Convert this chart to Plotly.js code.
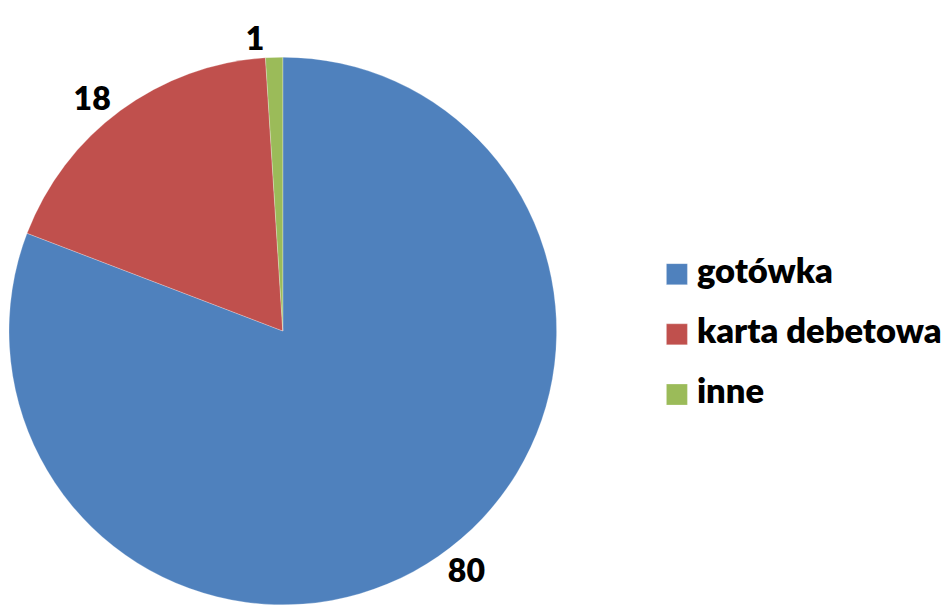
<!DOCTYPE html>
<html lang="en">
<head>
    <meta charset="UTF-8">
    <title>Pie</title>
    <script src="https://cdn.plot.ly/plotly-3.0.1.min.js"></script>
    <style>
        body { margin: 0; }
        #myDiv { width: 942px; height: 612px; }
    </style>
</head>
<body>
    <div id="myDiv"></div>
    <script>
        var labels = ["gotówka", "karta debetowa", "inne"]
        var values = [80, 18, 1]
        var colors = ["#4F81BD", "#C0504D", "#9BBB59"]

        // legend rows are spaced wide, so each entry gets an empty second line
        var legendLabels = labels.map(e => "<span style='font-size:34.5px'>" + e + "</span><br> ")

        var trace1 = {
            type: 'pie',
            labels: legendLabels,
            values: values,
            sort: false,
            direction: 'clockwise',
            rotation: 0,
            marker: { colors: colors, line: { color: 'rgba(255,255,255,0.5)', width: 0.5 } },
            texttemplate: '%{value}',
            textposition: 'outside',
            textfont: { family: 'Lato', size: 32, color: '#000', weight: 800 },
            hoverinfo: 'value',
            domain: { x: [0.0096, 0.5934], y: [0.0098, 0.9085] }
        }

        var layout = {
            width: 942,
            height: 612,
            margin: { l: 0, r: 0, t: 0, b: 0 },
            paper_bgcolor: '#fff',
            showlegend: true,
            legend: {
                x: 0.695, y: 0.43, xanchor: 'left', yanchor: 'middle',
                valign: 'top',
                font: { family: 'Lato', size: 22, color: '#000', weight: 800 },
                itemwidth: 30,
                tracegroupgap: 0
            }
        }

        var gd = document.getElementById('myDiv')
        Plotly.newPlot(gd, [trace1], layout, { displayModeBar: false }).then(function () {
            // bigger legend squares, like the original
            gd.querySelectorAll('.legendpoints path').forEach(function (p) {
                p.setAttribute('d', 'M10.5,10.5H-10.5V-10.5H10.5Z')
            })
            // legend gets pushed in from the right edge, nudge it back
            var leg = gd.querySelector('g.legend')
            var t = leg.getAttribute('transform')
            var m = /translate\(([-\d.]+),\s*([-\d.]+)\)/.exec(t)
            if (m) leg.setAttribute('transform', 'translate(' + (Number(m[1]) + 5) + ',' + m[2] + ')')
        })
    </script>
</body>
</html>
